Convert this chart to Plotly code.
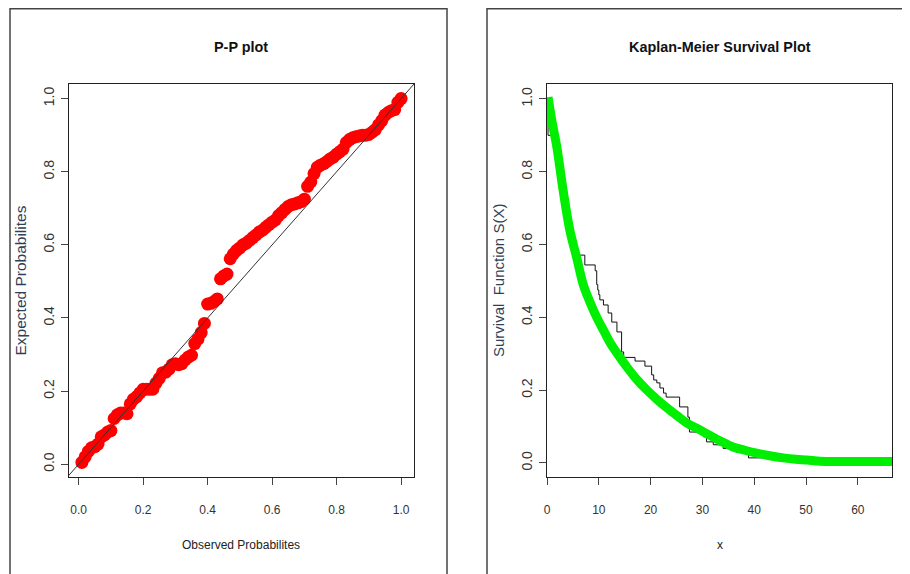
import plotly.graph_objects as go

# ---------------- data ----------------
pp_observed = [0.01, 0.02, 0.03, 0.04, 0.05, 0.06, 0.07, 0.08, 0.09, 0.10,
               0.11, 0.12, 0.13, 0.14, 0.15, 0.16, 0.17, 0.18, 0.19, 0.20,
               0.21, 0.22, 0.23, 0.24, 0.25, 0.26, 0.27, 0.28, 0.29, 0.30,
               0.31, 0.32, 0.33, 0.34, 0.35, 0.36, 0.37, 0.38, 0.39, 0.40,
               0.41, 0.42, 0.43, 0.44, 0.45, 0.46, 0.47, 0.48, 0.49, 0.50,
               0.51, 0.52, 0.53, 0.54, 0.55, 0.56, 0.57, 0.58, 0.59, 0.60,
               0.61, 0.62, 0.63, 0.64, 0.65, 0.66, 0.67, 0.68, 0.69, 0.70,
               0.71, 0.72, 0.73, 0.74, 0.75, 0.76, 0.77, 0.78, 0.79, 0.80,
               0.81, 0.82, 0.83, 0.84, 0.85, 0.86, 0.87, 0.88, 0.89, 0.90,
               0.91, 0.92, 0.93, 0.94, 0.95, 0.96, 0.97, 0.98, 0.99, 1.00]
pp_expected = [0.005, 0.020, 0.035, 0.045, 0.048, 0.055, 0.075, 0.080, 0.088, 0.092,
               0.125, 0.135, 0.140, 0.140, 0.138, 0.165, 0.178, 0.185, 0.195, 0.205,
               0.205, 0.205, 0.205, 0.222, 0.235, 0.250, 0.252, 0.260, 0.272, 0.275,
               0.272, 0.275, 0.285, 0.293, 0.298, 0.330, 0.342, 0.360, 0.385, 0.438,
               0.440, 0.445, 0.452, 0.507, 0.515, 0.520, 0.562, 0.575, 0.585, 0.592,
               0.600, 0.605, 0.612, 0.620, 0.627, 0.635, 0.640, 0.648, 0.655, 0.662,
               0.668, 0.680, 0.688, 0.697, 0.705, 0.710, 0.712, 0.715, 0.718, 0.725,
               0.760, 0.772, 0.795, 0.812, 0.818, 0.822, 0.828, 0.835, 0.840, 0.848,
               0.855, 0.862, 0.880, 0.888, 0.893, 0.896, 0.898, 0.900, 0.900, 0.902,
               0.908, 0.915, 0.928, 0.940, 0.955, 0.962, 0.967, 0.970, 0.990, 1.000]
diag_x = [-0.1, 1.1]
diag_y = [-0.1, 1.1]

km_time = [0.0, 0.2, 1.5, 2.0, 2.5, 3.0, 3.5, 4.0, 4.5, 4.9, 5.6, 7.3, 9.3,
           9.6, 9.8, 10.0, 10.2, 10.9, 11.8, 12.5, 13.5, 14.4, 14.8, 17.0,
           18.9, 20.2, 20.6, 21.2, 21.8, 22.5, 23.0, 25.6, 27.2, 27.5, 30.2,
           30.8, 32.1, 34.0, 36.5, 38.9, 41.4]
km_surv = [1.0, 0.900, 0.860, 0.830, 0.800, 0.760, 0.720, 0.680, 0.650, 0.613,
           0.571, 0.544, 0.528, 0.490, 0.475, 0.462, 0.448, 0.434, 0.412, 0.387,
           0.360, 0.305, 0.290, 0.280, 0.266, 0.242, 0.228, 0.220, 0.206, 0.192,
           0.181, 0.154, 0.126, 0.085, 0.072, 0.058, 0.050, 0.040, 0.030, 0.014,
           0.014]

fit_x = [0.2, 1.0, 1.9, 3.1, 4.4, 5.8, 7.0, 8.2, 9.6, 11.0, 12.2, 13.8, 15.4,
         17.3, 19.3, 21.2, 23.2, 25.1, 27.0, 29.0, 30.9, 33.5, 35.9, 38.2,
         40.5, 43.0, 45.6, 48.0, 50.2, 52.7, 55.2, 57.5, 59.8, 63.0, 66.6]
fit_y = [1.005, 0.935, 0.868, 0.750, 0.640, 0.560, 0.490, 0.445, 0.400, 0.362,
         0.330, 0.296, 0.264, 0.230, 0.200, 0.175, 0.151, 0.130, 0.110, 0.095,
         0.080, 0.060, 0.044, 0.035, 0.027, 0.020, 0.014, 0.010, 0.008, 0.005,
         0.004, 0.004, 0.004, 0.004, 0.004]

pp_xticks = [0.0, 0.2, 0.4, 0.6, 0.8, 1.0]
pp_yticks = [0.0, 0.2, 0.4, 0.6, 0.8, 1.0]
km_xticks = [0, 10, 20, 30, 40, 50, 60]
km_yticks = [0.0, 0.2, 0.4, 0.6, 0.8, 1.0]

# ---------------- figure ----------------
# the page body has an 8px margin, so the figure starts at screen (8, 8)
OFF = 8
W, H = 902, 566
FONT = "Liberation Sans, Arial, sans-serif"


def px_x(p):
    return (p - OFF) / W


def px_y(p):
    return 1 - (p - OFF) / H


fig = go.Figure()

fig.add_trace(go.Scatter(x=pp_observed, y=pp_expected, mode="markers",
                         marker=dict(color="#ff0000", size=13, line=dict(width=0)),
                         xaxis="x", yaxis="y", showlegend=False))
fig.add_trace(go.Scatter(x=diag_x, y=diag_y, mode="lines",
                         line=dict(color="#333333", width=1),
                         xaxis="x", yaxis="y", showlegend=False))

fig.add_trace(go.Scatter(x=km_time, y=km_surv, mode="lines", line_shape="hv",
                         line=dict(color="#111111", width=1),
                         xaxis="x2", yaxis="y2", showlegend=False))
fig.add_trace(go.Scatter(x=fit_x, y=fit_y, mode="lines", line_shape="spline",
                         line=dict(color="#00ee00", width=9),
                         xaxis="x2", yaxis="y2", showlegend=False))

common_x = dict(showgrid=False, zeroline=False, showline=True, mirror=True,
                linecolor="#222222", linewidth=1, ticks="outside", ticklen=7,
                tickcolor="#444444", tickfont=dict(family=FONT, size=12, color="#333333"),
                ticklabelstandoff=15)
common_y = dict(showgrid=False, zeroline=False, showline=True, mirror=True,
                linecolor="#222222", linewidth=1, ticks="outside", ticklen=7,
                tickcolor="#444444", tickfont=dict(family=FONT, size=14, color="#333333"),
                tickangle=-90, ticklabelstandoff=1)

fig.update_layout(
    width=W, height=H,
    margin=dict(l=0, r=0, t=0, b=0, autoexpand=False),
    paper_bgcolor="white", plot_bgcolor="white",
    xaxis=dict(domain=[px_x(69), px_x(414)], range=[-0.03, 1.04],
               tickvals=pp_xticks, ticktext=[f"{v:.1f}" for v in pp_xticks],
               anchor="y", **common_x),
    yaxis=dict(domain=[px_y(477), px_y(84)], range=[-0.035, 1.04],
               tickvals=pp_yticks, ticktext=[f"{v:.1f}" for v in pp_yticks],
               anchor="x", **common_y),
    xaxis2=dict(domain=[px_x(547), px_x(892)], range=[0, 66.6],
                tickvals=km_xticks, ticktext=[str(v) for v in km_xticks],
                anchor="y2", **common_x),
    yaxis2=dict(domain=[px_y(477), px_y(84)], range=[-0.0385, 1.041],
                tickvals=km_yticks, ticktext=[f"{v:.1f}" for v in km_yticks],
                anchor="x2", **common_y),
)

# panel frames (top edge kept just inside the figure)
TOP = px_y(8.8)
fig.add_shape(type="rect", xref="paper", yref="paper",
              x0=px_x(10), x1=px_x(447), y0=px_y(590), y1=TOP,
              line=dict(color="#444444", width=1.5))
fig.add_shape(type="rect", xref="paper", yref="paper",
              x0=px_x(487), x1=px_x(930), y0=px_y(590), y1=TOP,
              line=dict(color="#444444", width=1.5))

ann = []
ann.append(dict(text="<b>P-P plot</b>", x=px_x(241.5), y=px_y(47),
                font=dict(family=FONT, size=14.4, color="#111111")))
ann.append(dict(text="<b>Kaplan-Meier Survival Plot</b>", x=px_x(719.5), y=px_y(47),
                font=dict(family=FONT, size=14.4, color="#111111")))
ann.append(dict(text="Observed Probabilites", x=px_x(241.5), y=px_y(545),
                font=dict(family=FONT, size=12, color="#222222")))
ann.append(dict(text="x", x=px_x(719.5), y=px_y(545),
                font=dict(family=FONT, size=12, color="#222222")))
ann.append(dict(text="Expected Probabilites", x=px_x(20), y=px_y(280.5), textangle=-90,
                font=dict(family=FONT, size=15.5, color="#2f3f55")))
ann.append(dict(text="Survival  Function S(X)", x=px_x(498), y=px_y(281), textangle=-90,
                font=dict(family=FONT, size=15, color="#2f3f55")))
for a in ann:
    a.update(xref="paper", yref="paper", showarrow=False, xanchor="center", yanchor="middle")
fig.update_layout(annotations=ann)

fig.write_html("out.html")
